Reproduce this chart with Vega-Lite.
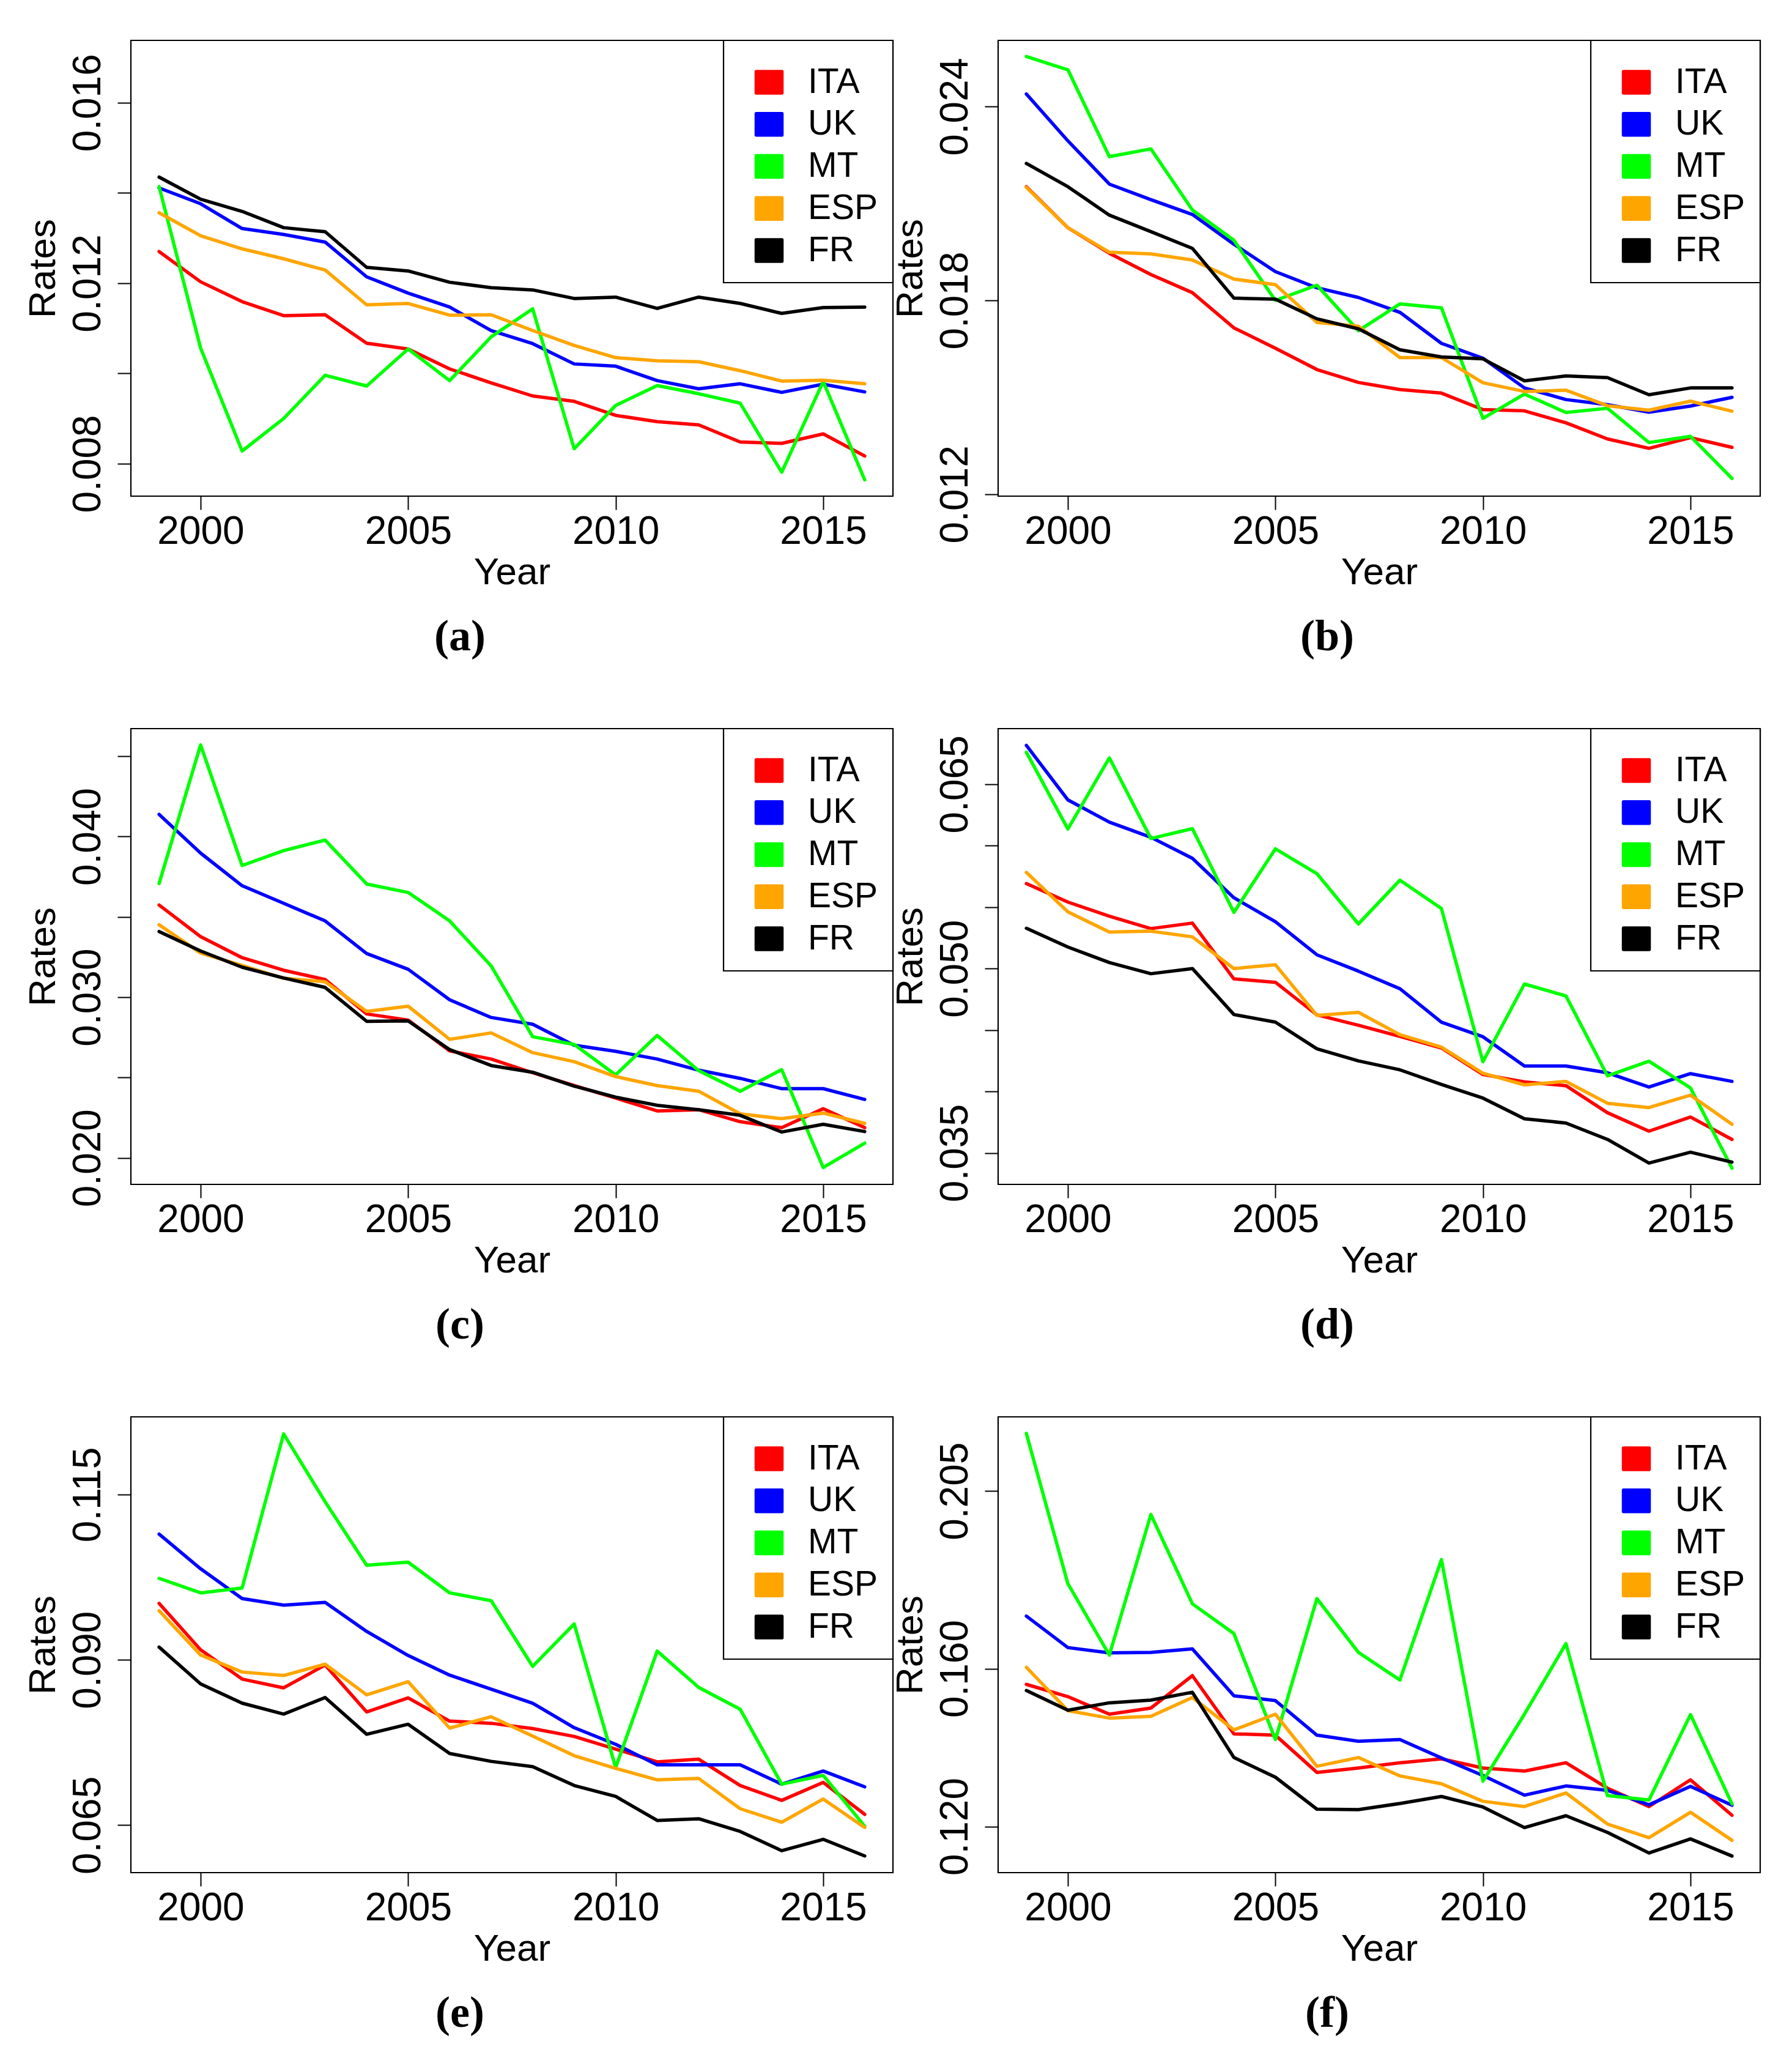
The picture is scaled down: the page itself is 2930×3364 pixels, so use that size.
{
"$schema": "https://vega.github.io/schema/vega-lite/v6.json",
"padding": {"left": 37, "top": 63, "right": 0, "bottom": 0},
"background": "white",
"config": {
 "font": "Liberation Sans",
 "view": {"stroke": "black", "strokeWidth": 2.2},
 "axis": {"grid": false, "domain": false, "tickColor": "black", "tickSize": 22, "tickWidth": 2, "labelFont": "Liberation Sans", "labelFontSize": 64, "labelColor": "black", "titleFont": "Liberation Sans", "titleFontSize": 62, "titleFontWeight": "normal", "titleColor": "black", "labelFlush": false, "labelOverlap": false},
 "axisX": {"labelPadding": 4, "titlePadding": 4},
 "axisY": {"labelAngle": 270, "labelPadding": 16, "titlePadding": 10},
 "legend": {"orient": "top-right", "offset": 0, "padding": 24, "strokeColor": "black", "strokeWidth": 2.2, "fillColor": "white", "labelFont": "Liberation Sans", "labelFontSize": 57, "labelColor": "black", "labelOffset": 57, "rowPadding": 10.75, "symbolStrokeColor": "black", "symbolStrokeWidth": 2, "symbolOpacity": 1, "titleFontSize": 6, "titlePadding": 10},
 "title": {"orient": "bottom", "font": "Liberation Serif", "fontWeight": "bold", "fontSize": 72, "offset": 40, "color": "black", "anchor": "middle", "dx": -85},
 "line": {"strokeWidth": 5.5, "strokeCap": "round", "strokeJoin": "round"}
},
"data": {"values": [
{"panel":"a","country":"ITA","year":1999,"rate":0.01270},{"panel":"a","country":"ITA","year":2000,"rate":0.01203},{"panel":"a","country":"ITA","year":2001,"rate":0.01159},{"panel":"a","country":"ITA","year":2002,"rate":0.01128},{"panel":"a","country":"ITA","year":2003,"rate":0.01130},{"panel":"a","country":"ITA","year":2004,"rate":0.01067},{"panel":"a","country":"ITA","year":2005,"rate":0.01054},{"panel":"a","country":"ITA","year":2006,"rate":0.01010},{"panel":"a","country":"ITA","year":2007,"rate":0.00979},{"panel":"a","country":"ITA","year":2008,"rate":0.00950},{"panel":"a","country":"ITA","year":2009,"rate":0.00938},{"panel":"a","country":"ITA","year":2010,"rate":0.00907},{"panel":"a","country":"ITA","year":2011,"rate":0.00893},{"panel":"a","country":"ITA","year":2012,"rate":0.00886},{"panel":"a","country":"ITA","year":2013,"rate":0.00848},{"panel":"a","country":"ITA","year":2014,"rate":0.00845},{"panel":"a","country":"ITA","year":2015,"rate":0.00866},{"panel":"a","country":"ITA","year":2016,"rate":0.00817},
{"panel":"a","country":"UK","year":1999,"rate":0.01411},{"panel":"a","country":"UK","year":2000,"rate":0.01376},{"panel":"a","country":"UK","year":2001,"rate":0.01321},{"panel":"a","country":"UK","year":2002,"rate":0.01308},{"panel":"a","country":"UK","year":2003,"rate":0.01291},{"panel":"a","country":"UK","year":2004,"rate":0.01214},{"panel":"a","country":"UK","year":2005,"rate":0.01178},{"panel":"a","country":"UK","year":2006,"rate":0.01147},{"panel":"a","country":"UK","year":2007,"rate":0.01095},{"panel":"a","country":"UK","year":2008,"rate":0.01066},{"panel":"a","country":"UK","year":2009,"rate":0.01021},{"panel":"a","country":"UK","year":2010,"rate":0.01016},{"panel":"a","country":"UK","year":2011,"rate":0.00984},{"panel":"a","country":"UK","year":2012,"rate":0.00966},{"panel":"a","country":"UK","year":2013,"rate":0.00977},{"panel":"a","country":"UK","year":2014,"rate":0.00958},{"panel":"a","country":"UK","year":2015,"rate":0.00976},{"panel":"a","country":"UK","year":2016,"rate":0.00959},
{"panel":"a","country":"MT","year":1999,"rate":0.01414},{"panel":"a","country":"MT","year":2000,"rate":0.01056},{"panel":"a","country":"MT","year":2001,"rate":0.00828},{"panel":"a","country":"MT","year":2002,"rate":0.00900},{"panel":"a","country":"MT","year":2003,"rate":0.00996},{"panel":"a","country":"MT","year":2004,"rate":0.00972},{"panel":"a","country":"MT","year":2005,"rate":0.01054},{"panel":"a","country":"MT","year":2006,"rate":0.00984},{"panel":"a","country":"MT","year":2007,"rate":0.01081},{"panel":"a","country":"MT","year":2008,"rate":0.01143},{"panel":"a","country":"MT","year":2009,"rate":0.00833},{"panel":"a","country":"MT","year":2010,"rate":0.00929},{"panel":"a","country":"MT","year":2011,"rate":0.00973},{"panel":"a","country":"MT","year":2012,"rate":0.00955},{"panel":"a","country":"MT","year":2013,"rate":0.00934},{"panel":"a","country":"MT","year":2014,"rate":0.00781},{"panel":"a","country":"MT","year":2015,"rate":0.00982},{"panel":"a","country":"MT","year":2016,"rate":0.00764},
{"panel":"a","country":"ESP","year":1999,"rate":0.01356},{"panel":"a","country":"ESP","year":2000,"rate":0.01305},{"panel":"a","country":"ESP","year":2001,"rate":0.01276},{"panel":"a","country":"ESP","year":2002,"rate":0.01254},{"panel":"a","country":"ESP","year":2003,"rate":0.01229},{"panel":"a","country":"ESP","year":2004,"rate":0.01152},{"panel":"a","country":"ESP","year":2005,"rate":0.01155},{"panel":"a","country":"ESP","year":2006,"rate":0.01129},{"panel":"a","country":"ESP","year":2007,"rate":0.01130},{"panel":"a","country":"ESP","year":2008,"rate":0.01095},{"panel":"a","country":"ESP","year":2009,"rate":0.01062},{"panel":"a","country":"ESP","year":2010,"rate":0.01035},{"panel":"a","country":"ESP","year":2011,"rate":0.01028},{"panel":"a","country":"ESP","year":2012,"rate":0.01026},{"panel":"a","country":"ESP","year":2013,"rate":0.01006},{"panel":"a","country":"ESP","year":2014,"rate":0.00983},{"panel":"a","country":"ESP","year":2015,"rate":0.00985},{"panel":"a","country":"ESP","year":2016,"rate":0.00977},
{"panel":"a","country":"FR","year":1999,"rate":0.01435},{"panel":"a","country":"FR","year":2000,"rate":0.01386},{"panel":"a","country":"FR","year":2001,"rate":0.01359},{"panel":"a","country":"FR","year":2002,"rate":0.01323},{"panel":"a","country":"FR","year":2003,"rate":0.01314},{"panel":"a","country":"FR","year":2004,"rate":0.01235},{"panel":"a","country":"FR","year":2005,"rate":0.01227},{"panel":"a","country":"FR","year":2006,"rate":0.01202},{"panel":"a","country":"FR","year":2007,"rate":0.01190},{"panel":"a","country":"FR","year":2008,"rate":0.01185},{"panel":"a","country":"FR","year":2009,"rate":0.01166},{"panel":"a","country":"FR","year":2010,"rate":0.01169},{"panel":"a","country":"FR","year":2011,"rate":0.01144},{"panel":"a","country":"FR","year":2012,"rate":0.01169},{"panel":"a","country":"FR","year":2013,"rate":0.01155},{"panel":"a","country":"FR","year":2014,"rate":0.01133},{"panel":"a","country":"FR","year":2015,"rate":0.01146},{"panel":"a","country":"FR","year":2016,"rate":0.01147},
{"panel":"b","country":"ITA","year":1999,"rate":0.02152},{"panel":"b","country":"ITA","year":2000,"rate":0.02025},{"panel":"b","country":"ITA","year":2001,"rate":0.01946},{"panel":"b","country":"ITA","year":2002,"rate":0.01880},{"panel":"b","country":"ITA","year":2003,"rate":0.01824},{"panel":"b","country":"ITA","year":2004,"rate":0.01715},{"panel":"b","country":"ITA","year":2005,"rate":0.01652},{"panel":"b","country":"ITA","year":2006,"rate":0.01586},{"panel":"b","country":"ITA","year":2007,"rate":0.01546},{"panel":"b","country":"ITA","year":2008,"rate":0.01524},{"panel":"b","country":"ITA","year":2009,"rate":0.01513},{"panel":"b","country":"ITA","year":2010,"rate":0.01462},{"panel":"b","country":"ITA","year":2011,"rate":0.01458},{"panel":"b","country":"ITA","year":2012,"rate":0.01421},{"panel":"b","country":"ITA","year":2013,"rate":0.01371},{"panel":"b","country":"ITA","year":2014,"rate":0.01342},{"panel":"b","country":"ITA","year":2015,"rate":0.01375},{"panel":"b","country":"ITA","year":2016,"rate":0.01345},
{"panel":"b","country":"UK","year":1999,"rate":0.02439},{"panel":"b","country":"UK","year":2000,"rate":0.02294},{"panel":"b","country":"UK","year":2001,"rate":0.02160},{"panel":"b","country":"UK","year":2002,"rate":0.02112},{"panel":"b","country":"UK","year":2003,"rate":0.02066},{"panel":"b","country":"UK","year":2004,"rate":0.01974},{"panel":"b","country":"UK","year":2005,"rate":0.01889},{"panel":"b","country":"UK","year":2006,"rate":0.01839},{"panel":"b","country":"UK","year":2007,"rate":0.01809},{"panel":"b","country":"UK","year":2008,"rate":0.01763},{"panel":"b","country":"UK","year":2009,"rate":0.01667},{"panel":"b","country":"UK","year":2010,"rate":0.01621},{"panel":"b","country":"UK","year":2011,"rate":0.01529},{"panel":"b","country":"UK","year":2012,"rate":0.01493},{"panel":"b","country":"UK","year":2013,"rate":0.01477},{"panel":"b","country":"UK","year":2014,"rate":0.01454},{"panel":"b","country":"UK","year":2015,"rate":0.01473},{"panel":"b","country":"UK","year":2016,"rate":0.01500},
{"panel":"b","country":"MT","year":1999,"rate":0.02555},{"panel":"b","country":"MT","year":2000,"rate":0.02514},{"panel":"b","country":"MT","year":2001,"rate":0.02245},{"panel":"b","country":"MT","year":2002,"rate":0.02269},{"panel":"b","country":"MT","year":2003,"rate":0.02080},{"panel":"b","country":"MT","year":2004,"rate":0.01986},{"panel":"b","country":"MT","year":2005,"rate":0.01800},{"panel":"b","country":"MT","year":2006,"rate":0.01847},{"panel":"b","country":"MT","year":2007,"rate":0.01706},{"panel":"b","country":"MT","year":2008,"rate":0.01789},{"panel":"b","country":"MT","year":2009,"rate":0.01777},{"panel":"b","country":"MT","year":2010,"rate":0.01435},{"panel":"b","country":"MT","year":2011,"rate":0.01510},{"panel":"b","country":"MT","year":2012,"rate":0.01453},{"panel":"b","country":"MT","year":2013,"rate":0.01466},{"panel":"b","country":"MT","year":2014,"rate":0.01360},{"panel":"b","country":"MT","year":2015,"rate":0.01379},{"panel":"b","country":"MT","year":2016,"rate":0.01249},
{"panel":"b","country":"ESP","year":1999,"rate":0.02150},{"panel":"b","country":"ESP","year":2000,"rate":0.02025},{"panel":"b","country":"ESP","year":2001,"rate":0.01949},{"panel":"b","country":"ESP","year":2002,"rate":0.01944},{"panel":"b","country":"ESP","year":2003,"rate":0.01925},{"panel":"b","country":"ESP","year":2004,"rate":0.01866},{"panel":"b","country":"ESP","year":2005,"rate":0.01849},{"panel":"b","country":"ESP","year":2006,"rate":0.01732},{"panel":"b","country":"ESP","year":2007,"rate":0.01720},{"panel":"b","country":"ESP","year":2008,"rate":0.01623},{"panel":"b","country":"ESP","year":2009,"rate":0.01623},{"panel":"b","country":"ESP","year":2010,"rate":0.01545},{"panel":"b","country":"ESP","year":2011,"rate":0.01518},{"panel":"b","country":"ESP","year":2012,"rate":0.01522},{"panel":"b","country":"ESP","year":2013,"rate":0.01474},{"panel":"b","country":"ESP","year":2014,"rate":0.01460},{"panel":"b","country":"ESP","year":2015,"rate":0.01488},{"panel":"b","country":"ESP","year":2016,"rate":0.01457},
{"panel":"b","country":"FR","year":1999,"rate":0.02224},{"panel":"b","country":"FR","year":2000,"rate":0.02152},{"panel":"b","country":"FR","year":2001,"rate":0.02064},{"panel":"b","country":"FR","year":2002,"rate":0.02013},{"panel":"b","country":"FR","year":2003,"rate":0.01961},{"panel":"b","country":"FR","year":2004,"rate":0.01807},{"panel":"b","country":"FR","year":2005,"rate":0.01804},{"panel":"b","country":"FR","year":2006,"rate":0.01743},{"panel":"b","country":"FR","year":2007,"rate":0.01712},{"panel":"b","country":"FR","year":2008,"rate":0.01647},{"panel":"b","country":"FR","year":2009,"rate":0.01625},{"panel":"b","country":"FR","year":2010,"rate":0.01619},{"panel":"b","country":"FR","year":2011,"rate":0.01551},{"panel":"b","country":"FR","year":2012,"rate":0.01566},{"panel":"b","country":"FR","year":2013,"rate":0.01561},{"panel":"b","country":"FR","year":2014,"rate":0.01508},{"panel":"b","country":"FR","year":2015,"rate":0.01529},{"panel":"b","country":"FR","year":2016,"rate":0.01529},
{"panel":"c","country":"ITA","year":1999,"rate":0.03574},{"panel":"c","country":"ITA","year":2000,"rate":0.03377},{"panel":"c","country":"ITA","year":2001,"rate":0.03246},{"panel":"c","country":"ITA","year":2002,"rate":0.03168},{"panel":"c","country":"ITA","year":2003,"rate":0.03110},{"panel":"c","country":"ITA","year":2004,"rate":0.02896},{"panel":"c","country":"ITA","year":2005,"rate":0.02858},{"panel":"c","country":"ITA","year":2006,"rate":0.02666},{"panel":"c","country":"ITA","year":2007,"rate":0.02615},{"panel":"c","country":"ITA","year":2008,"rate":0.02530},{"panel":"c","country":"ITA","year":2009,"rate":0.02450},{"panel":"c","country":"ITA","year":2010,"rate":0.02372},{"panel":"c","country":"ITA","year":2011,"rate":0.02292},{"panel":"c","country":"ITA","year":2012,"rate":0.02300},{"panel":"c","country":"ITA","year":2013,"rate":0.02225},{"panel":"c","country":"ITA","year":2014,"rate":0.02188},{"panel":"c","country":"ITA","year":2015,"rate":0.02306},{"panel":"c","country":"ITA","year":2016,"rate":0.02188},
{"panel":"c","country":"UK","year":1999,"rate":0.04138},{"panel":"c","country":"UK","year":2000,"rate":0.03897},{"panel":"c","country":"UK","year":2001,"rate":0.03694},{"panel":"c","country":"UK","year":2002,"rate":0.03585},{"panel":"c","country":"UK","year":2003,"rate":0.03475},{"panel":"c","country":"UK","year":2004,"rate":0.03272},{"panel":"c","country":"UK","year":2005,"rate":0.03174},{"panel":"c","country":"UK","year":2006,"rate":0.02984},{"panel":"c","country":"UK","year":2007,"rate":0.02874},{"panel":"c","country":"UK","year":2008,"rate":0.02832},{"panel":"c","country":"UK","year":2009,"rate":0.02701},{"panel":"c","country":"UK","year":2010,"rate":0.02663},{"panel":"c","country":"UK","year":2011,"rate":0.02615},{"panel":"c","country":"UK","year":2012,"rate":0.02546},{"panel":"c","country":"UK","year":2013,"rate":0.02495},{"panel":"c","country":"UK","year":2014,"rate":0.02431},{"panel":"c","country":"UK","year":2015,"rate":0.02431},{"panel":"c","country":"UK","year":2016,"rate":0.02364},
{"panel":"c","country":"MT","year":1999,"rate":0.03708},{"panel":"c","country":"MT","year":2000,"rate":0.04571},{"panel":"c","country":"MT","year":2001,"rate":0.03820},{"panel":"c","country":"MT","year":2002,"rate":0.03913},{"panel":"c","country":"MT","year":2003,"rate":0.03978},{"panel":"c","country":"MT","year":2004,"rate":0.03705},{"panel":"c","country":"MT","year":2005,"rate":0.03652},{"panel":"c","country":"MT","year":2006,"rate":0.03475},{"panel":"c","country":"MT","year":2007,"rate":0.03195},{"panel":"c","country":"MT","year":2008,"rate":0.02754},{"panel":"c","country":"MT","year":2009,"rate":0.02706},{"panel":"c","country":"MT","year":2010,"rate":0.02517},{"panel":"c","country":"MT","year":2011,"rate":0.02762},{"panel":"c","country":"MT","year":2012,"rate":0.02543},{"panel":"c","country":"MT","year":2013,"rate":0.02415},{"panel":"c","country":"MT","year":2014,"rate":0.02549},{"panel":"c","country":"MT","year":2015,"rate":0.01940},{"panel":"c","country":"MT","year":2016,"rate":0.02092},
{"panel":"c","country":"ESP","year":1999,"rate":0.03451},{"panel":"c","country":"ESP","year":2000,"rate":0.03275},{"panel":"c","country":"ESP","year":2001,"rate":0.03198},{"panel":"c","country":"ESP","year":2002,"rate":0.03118},{"panel":"c","country":"ESP","year":2003,"rate":0.03096},{"panel":"c","country":"ESP","year":2004,"rate":0.02912},{"panel":"c","country":"ESP","year":2005,"rate":0.02944},{"panel":"c","country":"ESP","year":2006,"rate":0.02738},{"panel":"c","country":"ESP","year":2007,"rate":0.02778},{"panel":"c","country":"ESP","year":2008,"rate":0.02655},{"panel":"c","country":"ESP","year":2009,"rate":0.02599},{"panel":"c","country":"ESP","year":2010,"rate":0.02506},{"panel":"c","country":"ESP","year":2011,"rate":0.02450},{"panel":"c","country":"ESP","year":2012,"rate":0.02415},{"panel":"c","country":"ESP","year":2013,"rate":0.02274},{"panel":"c","country":"ESP","year":2014,"rate":0.02244},{"panel":"c","country":"ESP","year":2015,"rate":0.02279},{"panel":"c","country":"ESP","year":2016,"rate":0.02215},
{"panel":"c","country":"FR","year":1999,"rate":0.03409},{"panel":"c","country":"FR","year":2000,"rate":0.03288},{"panel":"c","country":"FR","year":2001,"rate":0.03187},{"panel":"c","country":"FR","year":2002,"rate":0.03120},{"panel":"c","country":"FR","year":2003,"rate":0.03061},{"panel":"c","country":"FR","year":2004,"rate":0.02850},{"panel":"c","country":"FR","year":2005,"rate":0.02853},{"panel":"c","country":"FR","year":2006,"rate":0.02674},{"panel":"c","country":"FR","year":2007,"rate":0.02575},{"panel":"c","country":"FR","year":2008,"rate":0.02533},{"panel":"c","country":"FR","year":2009,"rate":0.02447},{"panel":"c","country":"FR","year":2010,"rate":0.02378},{"panel":"c","country":"FR","year":2011,"rate":0.02327},{"panel":"c","country":"FR","year":2012,"rate":0.02300},{"panel":"c","country":"FR","year":2013,"rate":0.02265},{"panel":"c","country":"FR","year":2014,"rate":0.02161},{"panel":"c","country":"FR","year":2015,"rate":0.02209},{"panel":"c","country":"FR","year":2016,"rate":0.02164},
{"panel":"d","country":"ITA","year":1999,"rate":0.05691},{"panel":"d","country":"ITA","year":2000,"rate":0.05541},{"panel":"d","country":"ITA","year":2001,"rate":0.05426},{"panel":"d","country":"ITA","year":2002,"rate":0.05325},{"panel":"d","country":"ITA","year":2003,"rate":0.05370},{"panel":"d","country":"ITA","year":2004,"rate":0.04916},{"panel":"d","country":"ITA","year":2005,"rate":0.04888},{"panel":"d","country":"ITA","year":2006,"rate":0.04623},{"panel":"d","country":"ITA","year":2007,"rate":0.04539},{"panel":"d","country":"ITA","year":2008,"rate":0.04448},{"panel":"d","country":"ITA","year":2009,"rate":0.04354},{"panel":"d","country":"ITA","year":2010,"rate":0.04138},{"panel":"d","country":"ITA","year":2011,"rate":0.04078},{"panel":"d","country":"ITA","year":2012,"rate":0.04047},{"panel":"d","country":"ITA","year":2013,"rate":0.03827},{"panel":"d","country":"ITA","year":2014,"rate":0.03677},{"panel":"d","country":"ITA","year":2015,"rate":0.03792},{"panel":"d","country":"ITA","year":2016,"rate":0.03610},
{"panel":"d","country":"UK","year":1999,"rate":0.06816},{"panel":"d","country":"UK","year":2000,"rate":0.06372},{"panel":"d","country":"UK","year":2001,"rate":0.06191},{"panel":"d","country":"UK","year":2002,"rate":0.06068},{"panel":"d","country":"UK","year":2003,"rate":0.05897},{"panel":"d","country":"UK","year":2004,"rate":0.05576},{"panel":"d","country":"UK","year":2005,"rate":0.05381},{"panel":"d","country":"UK","year":2006,"rate":0.05112},{"panel":"d","country":"UK","year":2007,"rate":0.04979},{"panel":"d","country":"UK","year":2008,"rate":0.04836},{"panel":"d","country":"UK","year":2009,"rate":0.04564},{"panel":"d","country":"UK","year":2010,"rate":0.04445},{"panel":"d","country":"UK","year":2011,"rate":0.04207},{"panel":"d","country":"UK","year":2012,"rate":0.04207},{"panel":"d","country":"UK","year":2013,"rate":0.04152},{"panel":"d","country":"UK","year":2014,"rate":0.04036},{"panel":"d","country":"UK","year":2015,"rate":0.04145},{"panel":"d","country":"UK","year":2016,"rate":0.04082},
{"panel":"d","country":"MT","year":1999,"rate":0.06760},{"panel":"d","country":"MT","year":2000,"rate":0.06135},{"panel":"d","country":"MT","year":2001,"rate":0.06714},{"panel":"d","country":"MT","year":2002,"rate":0.06058},{"panel":"d","country":"MT","year":2003,"rate":0.06138},{"panel":"d","country":"MT","year":2004,"rate":0.05457},{"panel":"d","country":"MT","year":2005,"rate":0.05974},{"panel":"d","country":"MT","year":2006,"rate":0.05772},{"panel":"d","country":"MT","year":2007,"rate":0.05363},{"panel":"d","country":"MT","year":2008,"rate":0.05719},{"panel":"d","country":"MT","year":2009,"rate":0.05489},{"panel":"d","country":"MT","year":2010,"rate":0.04242},{"panel":"d","country":"MT","year":2011,"rate":0.04874},{"panel":"d","country":"MT","year":2012,"rate":0.04777},{"panel":"d","country":"MT","year":2013,"rate":0.04127},{"panel":"d","country":"MT","year":2014,"rate":0.04246},{"panel":"d","country":"MT","year":2015,"rate":0.04029},{"panel":"d","country":"MT","year":2016,"rate":0.03376},
{"panel":"d","country":"ESP","year":1999,"rate":0.05782},{"panel":"d","country":"ESP","year":2000,"rate":0.05461},{"panel":"d","country":"ESP","year":2001,"rate":0.05297},{"panel":"d","country":"ESP","year":2002,"rate":0.05304},{"panel":"d","country":"ESP","year":2003,"rate":0.05258},{"panel":"d","country":"ESP","year":2004,"rate":0.05000},{"panel":"d","country":"ESP","year":2005,"rate":0.05031},{"panel":"d","country":"ESP","year":2006,"rate":0.04619},{"panel":"d","country":"ESP","year":2007,"rate":0.04644},{"panel":"d","country":"ESP","year":2008,"rate":0.04462},{"panel":"d","country":"ESP","year":2009,"rate":0.04361},{"panel":"d","country":"ESP","year":2010,"rate":0.04148},{"panel":"d","country":"ESP","year":2011,"rate":0.04054},{"panel":"d","country":"ESP","year":2012,"rate":0.04082},{"panel":"d","country":"ESP","year":2013,"rate":0.03904},{"panel":"d","country":"ESP","year":2014,"rate":0.03869},{"panel":"d","country":"ESP","year":2015,"rate":0.03970},{"panel":"d","country":"ESP","year":2016,"rate":0.03733},
{"panel":"d","country":"FR","year":1999,"rate":0.05328},{"panel":"d","country":"FR","year":2000,"rate":0.05175},{"panel":"d","country":"FR","year":2001,"rate":0.05049},{"panel":"d","country":"FR","year":2002,"rate":0.04958},{"panel":"d","country":"FR","year":2003,"rate":0.05000},{"panel":"d","country":"FR","year":2004,"rate":0.04626},{"panel":"d","country":"FR","year":2005,"rate":0.04564},{"panel":"d","country":"FR","year":2006,"rate":0.04347},{"panel":"d","country":"FR","year":2007,"rate":0.04249},{"panel":"d","country":"FR","year":2008,"rate":0.04176},{"panel":"d","country":"FR","year":2009,"rate":0.04057},{"panel":"d","country":"FR","year":2010,"rate":0.03946},{"panel":"d","country":"FR","year":2011,"rate":0.03778},{"panel":"d","country":"FR","year":2012,"rate":0.03743},{"panel":"d","country":"FR","year":2013,"rate":0.03610},{"panel":"d","country":"FR","year":2014,"rate":0.03418},{"panel":"d","country":"FR","year":2015,"rate":0.03506},{"panel":"d","country":"FR","year":2016,"rate":0.03425},
{"panel":"e","country":"ITA","year":1999,"rate":0.09854},{"panel":"e","country":"ITA","year":2000,"rate":0.09152},{"panel":"e","country":"ITA","year":2001,"rate":0.08709},{"panel":"e","country":"ITA","year":2002,"rate":0.08576},{"panel":"e","country":"ITA","year":2003,"rate":0.08921},{"panel":"e","country":"ITA","year":2004,"rate":0.08212},{"panel":"e","country":"ITA","year":2005,"rate":0.08424},{"panel":"e","country":"ITA","year":2006,"rate":0.08073},{"panel":"e","country":"ITA","year":2007,"rate":0.08040},{"panel":"e","country":"ITA","year":2008,"rate":0.07960},{"panel":"e","country":"ITA","year":2009,"rate":0.07841},{"panel":"e","country":"ITA","year":2010,"rate":0.07649},{"panel":"e","country":"ITA","year":2011,"rate":0.07457},{"panel":"e","country":"ITA","year":2012,"rate":0.07497},{"panel":"e","country":"ITA","year":2013,"rate":0.07099},{"panel":"e","country":"ITA","year":2014,"rate":0.06874},{"panel":"e","country":"ITA","year":2015,"rate":0.07146},{"panel":"e","country":"ITA","year":2016,"rate":0.06662},
{"panel":"e","country":"UK","year":1999,"rate":0.10901},{"panel":"e","country":"UK","year":2000,"rate":0.10377},{"panel":"e","country":"UK","year":2001,"rate":0.09927},{"panel":"e","country":"UK","year":2002,"rate":0.09828},{"panel":"e","country":"UK","year":2003,"rate":0.09868},{"panel":"e","country":"UK","year":2004,"rate":0.09430},{"panel":"e","country":"UK","year":2005,"rate":0.09066},{"panel":"e","country":"UK","year":2006,"rate":0.08768},{"panel":"e","country":"UK","year":2007,"rate":0.08556},{"panel":"e","country":"UK","year":2008,"rate":0.08344},{"panel":"e","country":"UK","year":2009,"rate":0.07974},{"panel":"e","country":"UK","year":2010,"rate":0.07722},{"panel":"e","country":"UK","year":2011,"rate":0.07411},{"panel":"e","country":"UK","year":2012,"rate":0.07411},{"panel":"e","country":"UK","year":2013,"rate":0.07411},{"panel":"e","country":"UK","year":2014,"rate":0.07119},{"panel":"e","country":"UK","year":2015,"rate":0.07318},{"panel":"e","country":"UK","year":2016,"rate":0.07079},
{"panel":"e","country":"MT","year":1999,"rate":0.10232},{"panel":"e","country":"MT","year":2000,"rate":0.10013},{"panel":"e","country":"MT","year":2001,"rate":0.10086},{"panel":"e","country":"MT","year":2002,"rate":0.12417},{"panel":"e","country":"MT","year":2003,"rate":0.11391},{"panel":"e","country":"MT","year":2004,"rate":0.10430},{"panel":"e","country":"MT","year":2005,"rate":0.10477},{"panel":"e","country":"MT","year":2006,"rate":0.10013},{"panel":"e","country":"MT","year":2007,"rate":0.09894},{"panel":"e","country":"MT","year":2008,"rate":0.08901},{"panel":"e","country":"MT","year":2009,"rate":0.09543},{"panel":"e","country":"MT","year":2010,"rate":0.07371},{"panel":"e","country":"MT","year":2011,"rate":0.09132},{"panel":"e","country":"MT","year":2012,"rate":0.08583},{"panel":"e","country":"MT","year":2013,"rate":0.08252},{"panel":"e","country":"MT","year":2014,"rate":0.07119},{"panel":"e","country":"MT","year":2015,"rate":0.07252},{"panel":"e","country":"MT","year":2016,"rate":0.06483},
{"panel":"e","country":"ESP","year":1999,"rate":0.09742},{"panel":"e","country":"ESP","year":2000,"rate":0.09073},{"panel":"e","country":"ESP","year":2001,"rate":0.08815},{"panel":"e","country":"ESP","year":2002,"rate":0.08762},{"panel":"e","country":"ESP","year":2003,"rate":0.08934},{"panel":"e","country":"ESP","year":2004,"rate":0.08470},{"panel":"e","country":"ESP","year":2005,"rate":0.08669},{"panel":"e","country":"ESP","year":2006,"rate":0.07967},{"panel":"e","country":"ESP","year":2007,"rate":0.08139},{"panel":"e","country":"ESP","year":2008,"rate":0.07848},{"panel":"e","country":"ESP","year":2009,"rate":0.07550},{"panel":"e","country":"ESP","year":2010,"rate":0.07358},{"panel":"e","country":"ESP","year":2011,"rate":0.07185},{"panel":"e","country":"ESP","year":2012,"rate":0.07205},{"panel":"e","country":"ESP","year":2013,"rate":0.06748},{"panel":"e","country":"ESP","year":2014,"rate":0.06543},{"panel":"e","country":"ESP","year":2015,"rate":0.06894},{"panel":"e","country":"ESP","year":2016,"rate":0.06464},
{"panel":"e","country":"FR","year":1999,"rate":0.09192},{"panel":"e","country":"FR","year":2000,"rate":0.08636},{"panel":"e","country":"FR","year":2001,"rate":0.08344},{"panel":"e","country":"FR","year":2002,"rate":0.08179},{"panel":"e","country":"FR","year":2003,"rate":0.08430},{"panel":"e","country":"FR","year":2004,"rate":0.07874},{"panel":"e","country":"FR","year":2005,"rate":0.08026},{"panel":"e","country":"FR","year":2006,"rate":0.07583},{"panel":"e","country":"FR","year":2007,"rate":0.07464},{"panel":"e","country":"FR","year":2008,"rate":0.07384},{"panel":"e","country":"FR","year":2009,"rate":0.07099},{"panel":"e","country":"FR","year":2010,"rate":0.06934},{"panel":"e","country":"FR","year":2011,"rate":0.06570},{"panel":"e","country":"FR","year":2012,"rate":0.06596},{"panel":"e","country":"FR","year":2013,"rate":0.06404},{"panel":"e","country":"FR","year":2014,"rate":0.06113},{"panel":"e","country":"FR","year":2015,"rate":0.06285},{"panel":"e","country":"FR","year":2016,"rate":0.06033},
{"panel":"f","country":"ITA","year":1999,"rate":0.15601},{"panel":"f","country":"ITA","year":2000,"rate":0.15290},{"panel":"f","country":"ITA","year":2001,"rate":0.14846},{"panel":"f","country":"ITA","year":2002,"rate":0.15001},{"panel":"f","country":"ITA","year":2003,"rate":0.15822},{"panel":"f","country":"ITA","year":2004,"rate":0.14347},{"panel":"f","country":"ITA","year":2005,"rate":0.14313},{"panel":"f","country":"ITA","year":2006,"rate":0.13370},{"panel":"f","country":"ITA","year":2007,"rate":0.13481},{"panel":"f","country":"ITA","year":2008,"rate":0.13614},{"panel":"f","country":"ITA","year":2009,"rate":0.13714},{"panel":"f","country":"ITA","year":2010,"rate":0.13481},{"panel":"f","country":"ITA","year":2011,"rate":0.13403},{"panel":"f","country":"ITA","year":2012,"rate":0.13614},{"panel":"f","country":"ITA","year":2013,"rate":0.12971},{"panel":"f","country":"ITA","year":2014,"rate":0.12505},{"panel":"f","country":"ITA","year":2015,"rate":0.13182},{"panel":"f","country":"ITA","year":2016,"rate":0.12283},
{"panel":"f","country":"UK","year":1999,"rate":0.17332},{"panel":"f","country":"UK","year":2000,"rate":0.16533},{"panel":"f","country":"UK","year":2001,"rate":0.16399},{"panel":"f","country":"UK","year":2002,"rate":0.16411},{"panel":"f","country":"UK","year":2003,"rate":0.16499},{"panel":"f","country":"UK","year":2004,"rate":0.15312},{"panel":"f","country":"UK","year":2005,"rate":0.15190},{"panel":"f","country":"UK","year":2006,"rate":0.14313},{"panel":"f","country":"UK","year":2007,"rate":0.14158},{"panel":"f","country":"UK","year":2008,"rate":0.14202},{"panel":"f","country":"UK","year":2009,"rate":0.13736},{"panel":"f","country":"UK","year":2010,"rate":0.13292},{"panel":"f","country":"UK","year":2011,"rate":0.12793},{"panel":"f","country":"UK","year":2012,"rate":0.13026},{"panel":"f","country":"UK","year":2013,"rate":0.12915},{"panel":"f","country":"UK","year":2014,"rate":0.12549},{"panel":"f","country":"UK","year":2015,"rate":0.13015},{"panel":"f","country":"UK","year":2016,"rate":0.12538},
{"panel":"f","country":"MT","year":1999,"rate":0.21959},{"panel":"f","country":"MT","year":2000,"rate":0.18153},{"panel":"f","country":"MT","year":2001,"rate":0.16344},{"panel":"f","country":"MT","year":2002,"rate":0.19906},{"panel":"f","country":"MT","year":2003,"rate":0.17642},{"panel":"f","country":"MT","year":2004,"rate":0.16888},{"panel":"f","country":"MT","year":2005,"rate":0.14202},{"panel":"f","country":"MT","year":2006,"rate":0.17775},{"panel":"f","country":"MT","year":2007,"rate":0.16411},{"panel":"f","country":"MT","year":2008,"rate":0.15711},{"panel":"f","country":"MT","year":2009,"rate":0.18763},{"panel":"f","country":"MT","year":2010,"rate":0.13148},{"panel":"f","country":"MT","year":2011,"rate":0.14846},{"panel":"f","country":"MT","year":2012,"rate":0.16632},{"panel":"f","country":"MT","year":2013,"rate":0.12782},{"panel":"f","country":"MT","year":2014,"rate":0.12671},{"panel":"f","country":"MT","year":2015,"rate":0.14835},{"panel":"f","country":"MT","year":2016,"rate":0.12571},
{"panel":"f","country":"ESP","year":1999,"rate":0.16033},{"panel":"f","country":"ESP","year":2000,"rate":0.14935},{"panel":"f","country":"ESP","year":2001,"rate":0.14746},{"panel":"f","country":"ESP","year":2002,"rate":0.14791},{"panel":"f","country":"ESP","year":2003,"rate":0.15268},{"panel":"f","country":"ESP","year":2004,"rate":0.14447},{"panel":"f","country":"ESP","year":2005,"rate":0.14846},{"panel":"f","country":"ESP","year":2006,"rate":0.13525},{"panel":"f","country":"ESP","year":2007,"rate":0.13747},{"panel":"f","country":"ESP","year":2008,"rate":0.13281},{"panel":"f","country":"ESP","year":2009,"rate":0.13082},{"panel":"f","country":"ESP","year":2010,"rate":0.12638},{"panel":"f","country":"ESP","year":2011,"rate":0.12505},{"panel":"f","country":"ESP","year":2012,"rate":0.12849},{"panel":"f","country":"ESP","year":2013,"rate":0.12061},{"panel":"f","country":"ESP","year":2014,"rate":0.11717},{"panel":"f","country":"ESP","year":2015,"rate":0.12360},{"panel":"f","country":"ESP","year":2016,"rate":0.11650},
{"panel":"f","country":"FR","year":1999,"rate":0.15445},{"panel":"f","country":"FR","year":2000,"rate":0.14946},{"panel":"f","country":"FR","year":2001,"rate":0.15134},{"panel":"f","country":"FR","year":2002,"rate":0.15201},{"panel":"f","country":"FR","year":2003,"rate":0.15401},{"panel":"f","country":"FR","year":2004,"rate":0.13747},{"panel":"f","country":"FR","year":2005,"rate":0.13248},{"panel":"f","country":"FR","year":2006,"rate":0.12438},{"panel":"f","country":"FR","year":2007,"rate":0.12427},{"panel":"f","country":"FR","year":2008,"rate":0.12582},{"panel":"f","country":"FR","year":2009,"rate":0.12760},{"panel":"f","country":"FR","year":2010,"rate":0.12494},{"panel":"f","country":"FR","year":2011,"rate":0.11972},{"panel":"f","country":"FR","year":2012,"rate":0.12272},{"panel":"f","country":"FR","year":2013,"rate":0.11850},{"panel":"f","country":"FR","year":2014,"rate":0.11328},{"panel":"f","country":"FR","year":2015,"rate":0.11684},{"panel":"f","country":"FR","year":2016,"rate":0.11251}
]},
"columns": 2,
"spacing": {"row": 109, "column": -8},
"resolve": {"scale": {"y": "independent", "color": "independent"}, "legend": {"color": "independent"}},
"concat": [
 {"title": "(a)", "width": 1246, "height": 745, "transform": [{"filter": "datum.panel=='a'"}],
  "encoding": {
   "x": {"field": "year", "type": "quantitative", "title": "Year", "scale": {"domain": [1998.32, 2016.68], "nice": false, "zero": false}, "axis": {"values": [2000, 2005, 2010, 2015], "format": "d"}},
   "y": {"field": "rate", "type": "quantitative", "title": "Rates", "scale": {"domain": [0.00728, 0.01738], "nice": false, "zero": false}, "axis": {"values": [0.008, 0.01, 0.012, 0.014, 0.016], "labelExpr": "(datum.value==0.01||datum.value==0.014)?'':format(datum.value,'.3f')"}},
   "color": {"field": "country", "type": "nominal", "scale": {"domain": ["ITA","UK","MT","ESP","FR"], "range": ["#ff0000","#0000ff","#00ff00","#ffa500","#000000"]}, "legend": {"title": "\u00a0", "symbolType": "M0.057,-1L2.457,-1L2.457,1L0.057,1Z", "symbolSize": 1225, "symbolStrokeColor": "black", "symbolStrokeWidth": 2, "symbolOpacity": 1}}
  },
  "layer": [
   {"mark": {"type": "square", "filled": true, "opacity": 0}},
   {"mark": {"type": "line"}}
  ]},
 {"title": "(b)", "width": 1246, "height": 745, "transform": [{"filter": "datum.panel=='b'"}],
  "encoding": {
   "x": {"field": "year", "type": "quantitative", "title": "Year", "scale": {"domain": [1998.32, 2016.68], "nice": false, "zero": false}, "axis": {"values": [2000, 2005, 2010, 2015], "format": "d"}},
   "y": {"field": "rate", "type": "quantitative", "title": "Rates", "scale": {"domain": [0.01194, 0.02605], "nice": false, "zero": false}, "axis": {"values": [0.012, 0.018, 0.024], "format": ".3f"}},
   "color": {"field": "country", "type": "nominal", "scale": {"domain": ["ITA","UK","MT","ESP","FR"], "range": ["#ff0000","#0000ff","#00ff00","#ffa500","#000000"]}, "legend": {"title": "\u00a0", "symbolType": "M0.057,-1L2.457,-1L2.457,1L0.057,1Z", "symbolSize": 1225, "symbolStrokeColor": "black", "symbolStrokeWidth": 2, "symbolOpacity": 1}}
  },
  "layer": [
   {"mark": {"type": "square", "filled": true, "opacity": 0}},
   {"mark": {"type": "line"}}
  ]},
 {"title": "(c)", "width": 1246, "height": 745, "transform": [{"filter": "datum.panel=='c'"}],
  "encoding": {
   "x": {"field": "year", "type": "quantitative", "title": "Year", "scale": {"domain": [1998.32, 2016.68], "nice": false, "zero": false}, "axis": {"values": [2000, 2005, 2010, 2015], "format": "d"}},
   "y": {"field": "rate", "type": "quantitative", "title": "Rates", "scale": {"domain": [0.01835, 0.04672], "nice": false, "zero": false}, "axis": {"values": [0.02, 0.025, 0.03, 0.035, 0.04, 0.045], "labelExpr": "(datum.value==0.025||datum.value==0.035||datum.value==0.045)?'':format(datum.value,'.3f')"}},
   "color": {"field": "country", "type": "nominal", "scale": {"domain": ["ITA","UK","MT","ESP","FR"], "range": ["#ff0000","#0000ff","#00ff00","#ffa500","#000000"]}, "legend": {"title": "\u00a0", "symbolType": "M0.057,-1L2.457,-1L2.457,1L0.057,1Z", "symbolSize": 1225, "symbolStrokeColor": "black", "symbolStrokeWidth": 2, "symbolOpacity": 1}}
  },
  "layer": [
   {"mark": {"type": "square", "filled": true, "opacity": 0}},
   {"mark": {"type": "line"}}
  ]},
 {"title": "(d)", "width": 1246, "height": 745, "transform": [{"filter": "datum.panel=='d'"}],
  "encoding": {
   "x": {"field": "year", "type": "quantitative", "title": "Year", "scale": {"domain": [1998.32, 2016.68], "nice": false, "zero": false}, "axis": {"values": [2000, 2005, 2010, 2015], "format": "d"}},
   "y": {"field": "rate", "type": "quantitative", "title": "Rates", "scale": {"domain": [0.03244, 0.06952], "nice": false, "zero": false}, "axis": {"values": [0.035, 0.04, 0.045, 0.05, 0.055, 0.06, 0.065], "labelExpr": "(datum.value==0.04||datum.value==0.045||datum.value==0.055||datum.value==0.06)?'':format(datum.value,'.3f')"}},
   "color": {"field": "country", "type": "nominal", "scale": {"domain": ["ITA","UK","MT","ESP","FR"], "range": ["#ff0000","#0000ff","#00ff00","#ffa500","#000000"]}, "legend": {"title": "\u00a0", "symbolType": "M0.057,-1L2.457,-1L2.457,1L0.057,1Z", "symbolSize": 1225, "symbolStrokeColor": "black", "symbolStrokeWidth": 2, "symbolOpacity": 1}}
  },
  "layer": [
   {"mark": {"type": "square", "filled": true, "opacity": 0}},
   {"mark": {"type": "line"}}
  ]},
 {"title": "(e)", "width": 1246, "height": 745, "transform": [{"filter": "datum.panel=='e'"}],
  "encoding": {
   "x": {"field": "year", "type": "quantitative", "title": "Year", "scale": {"domain": [1998.32, 2016.68], "nice": false, "zero": false}, "axis": {"values": [2000, 2005, 2010, 2015], "format": "d"}},
   "y": {"field": "rate", "type": "quantitative", "title": "Rates", "scale": {"domain": [0.05781, 0.12675], "nice": false, "zero": false}, "axis": {"values": [0.065, 0.09, 0.115], "format": ".3f"}},
   "color": {"field": "country", "type": "nominal", "scale": {"domain": ["ITA","UK","MT","ESP","FR"], "range": ["#ff0000","#0000ff","#00ff00","#ffa500","#000000"]}, "legend": {"title": "\u00a0", "symbolType": "M0.057,-1L2.457,-1L2.457,1L0.057,1Z", "symbolSize": 1225, "symbolStrokeColor": "black", "symbolStrokeWidth": 2, "symbolOpacity": 1}}
  },
  "layer": [
   {"mark": {"type": "square", "filled": true, "opacity": 0}},
   {"mark": {"type": "line"}}
  ]},
 {"title": "(f)", "width": 1246, "height": 745, "transform": [{"filter": "datum.panel=='f'"}],
  "encoding": {
   "x": {"field": "year", "type": "quantitative", "title": "Year", "scale": {"domain": [1998.32, 2016.68], "nice": false, "zero": false}, "axis": {"values": [2000, 2005, 2010, 2015], "format": "d"}},
   "y": {"field": "rate", "type": "quantitative", "title": "Rates", "scale": {"domain": [0.1083, 0.2238], "nice": false, "zero": false}, "axis": {"values": [0.12, 0.16, 0.205], "format": ".3f"}},
   "color": {"field": "country", "type": "nominal", "scale": {"domain": ["ITA","UK","MT","ESP","FR"], "range": ["#ff0000","#0000ff","#00ff00","#ffa500","#000000"]}, "legend": {"title": "\u00a0", "symbolType": "M0.057,-1L2.457,-1L2.457,1L0.057,1Z", "symbolSize": 1225, "symbolStrokeColor": "black", "symbolStrokeWidth": 2, "symbolOpacity": 1}}
  },
  "layer": [
   {"mark": {"type": "square", "filled": true, "opacity": 0}},
   {"mark": {"type": "line"}}
  ]}
]
}
